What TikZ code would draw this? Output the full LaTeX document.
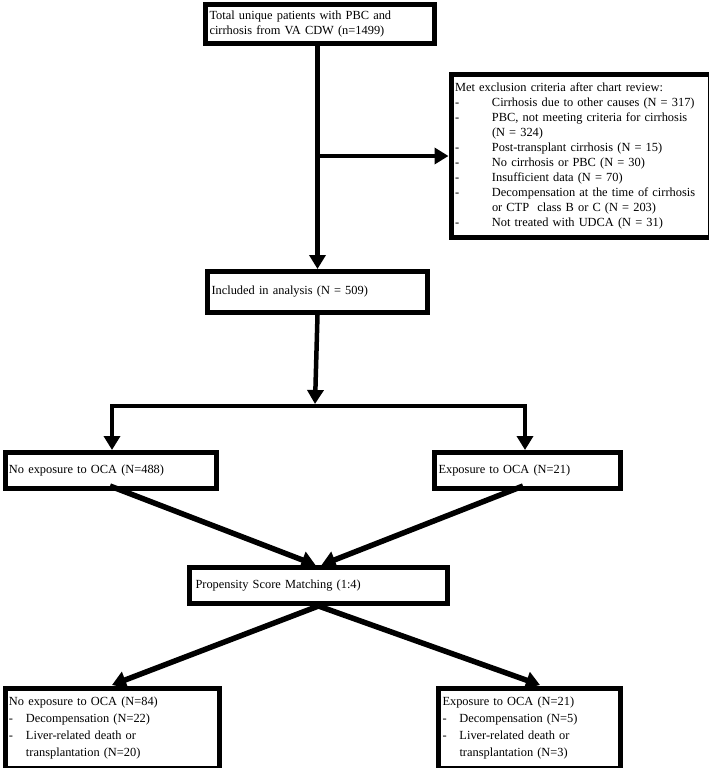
\documentclass[tikz,border=0pt]{standalone}
\usepackage{fontspec}
\setmainfont{Liberation Serif}
\usetikzlibrary{arrows.meta,calc}
\newcommand\exdash{\makebox[37pt][l]{-}}
\newcommand\exind{\hspace*{37pt}}
\newcommand\bdash{\makebox[17pt][l]{-}}
\newcommand\bind{\hspace*{17pt}}
\begin{document}
\begin{tikzpicture}[x=1pt,y=-1pt,
 box/.style={draw, line width=5pt, anchor=north west, inner xsep=4pt, inner ysep=0pt, align=left,
   font=\fontsize{12.4}{15}\selectfont},
 conn/.style={line width=4.5pt, -{Triangle[length=14pt,width=16pt]}},
 diag/.style={line width=5.5pt, -{Triangle[length=14pt,width=17pt]}},
 plain/.style={line width=4.5pt, line cap=rect}]
\useasboundingbox (0,0) rectangle (709,768);

\node[box, minimum width=229pt, minimum height=39pt, text width=221pt] (top) at (203,2.5)
  {Total unique patients with PBC and\\cirrhosis from VA CDW (n=1499)};
\node[box, minimum width=259pt, minimum height=163pt, text width=251pt, font=\fontsize{12.4}{14.9}\selectfont] (excl) at (448.5,72)
  {Met exclusion criteria after chart review:\\
   \exdash Cirrhosis due to other causes (N = 317)\\
   \exdash PBC, not meeting criteria for cirrhosis\\
   \exind (N = 324)\\
   \exdash Post-transplant cirrhosis (N = 15)\\
   \exdash No cirrhosis or PBC (N = 30)\\
   \exdash Insufficient data (N = 70)\\
   \exdash Decompensation at the time of cirrhosis\\
   \exind or CTP\ \ class B or C (N = 203)\\
   \exdash Not treated with UDCA (N = 31)};
\node[box, minimum width=220pt, minimum height=41pt, text width=212pt] (incl) at (205,269)
  {Included in analysis (N = 509)};
\node[box, minimum width=211pt, minimum height=36pt, text width=203pt] (noexp) at (2.5,450)
  {No exposure to OCA (N=488)};
\node[box, minimum width=186pt, minimum height=36pt, text width=178pt] (exp) at (432,450)
  {Exposure to OCA (N=21)};
\node[box, minimum width=254pt, minimum height=36pt, text width=246pt, inner xsep=6pt] (psm) at (187,565)
  {Propensity Score Matching (1:4)};
\node[box, minimum width=214pt, minimum height=80pt, text width=206pt, font=\fontsize{12.4}{16.7}\selectfont] (noexpb) at (2.5,685.5)
  {No exposure to OCA (N=84)\\
   \bdash Decompensation (N=22)\\
   \bdash Liver-related death or\\
   \bind transplantation (N=20)};
\node[box, minimum width=182pt, minimum height=80pt, text width=174pt, font=\fontsize{12.4}{16.7}\selectfont] (expb) at (436,685.5)
  {Exposure to OCA (N=21)\\
   \bdash Decompensation (N=5)\\
   \bdash Liver-related death or\\
   \bind transplantation (N=3)};

% top to included, with branch to exclusion
\draw[line width=4.5pt] (incl.north |- top.south) -- (incl.north |- excl.west);
\draw[conn] (incl.north |- excl.west) -- (incl.north);
\draw[conn] (incl.north |- excl.west) -- (excl.west);

% split
\coordinate (split) at (315,406);
\coordinate (L) at (112,406);
\coordinate (R) at (525,406);
\draw[conn] (incl.south) -- ($(split)+(0,-2)$);
\draw[plain] (L) -- (R);
\draw[conn] (L) -- (L |- noexp.north);
\draw[conn] (R) -- (R |- exp.north);

% into matching
\coordinate (a1) at (110,486);
\coordinate (a2) at (523,486);
\draw[diag] (a1) -- ($(psm.north)+(-3,0)$);
\draw[diag] (a2) -- ($(psm.north)+(3,0)$);

% out of matching
\coordinate (b1) at (112,685);
\coordinate (b2) at (540,685);
\draw[diag] (psm.south) -- (b1);
\draw[diag] (psm.south) -- (b2);
\end{tikzpicture}
\end{document}
